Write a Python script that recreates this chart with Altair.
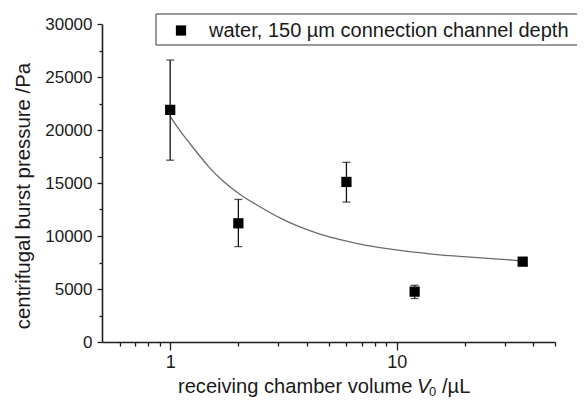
import altair as alt
import pandas as pd

# measured data (volume in µL, burst pressure in Pa)
volume = [1, 2, 6, 12, 36]
pressure = [21900, 11200, 15100, 4750, 7580]
err_low = [17150, 9000, 13200, 4100, 7300]
err_high = [26600, 13450, 16950, 5350, 7850]

# fitted curve
fit_volume = [1.0, 1.12, 1.29, 1.47, 1.68, 2.03, 2.49, 3.05, 3.74, 4.58, 5.61, 7.1, 9.97, 13.98, 19.6, 27.5, 36]
fit_pressure = [21300, 19690, 18110, 16540, 15300, 13870, 12760, 11670, 10820, 10160, 9650, 9130, 8680, 8300, 8050, 7850, 7650]

x_major = [1, 10]
x_minor = [0.6, 0.7, 0.8, 0.9, 2, 3, 4, 5, 6, 7, 8, 9, 20, 30, 40, 50]
y_major = [0, 5000, 10000, 15000, 20000, 25000, 30000]
y_minor = [2500, 7500, 12500, 17500, 22500, 27500]

legend_label = "water, 150 µm connection channel depth"
y_title = "centrifugal burst pressure /Pa"
x_title_parts = ["receiving chamber volume", "V", "0", "/µL"]

FONT = "Liberation Sans"
AX = "#1e1e1e"
TXT = "#1a1a1a"

pts = pd.DataFrame({"v": volume, "p": pressure, "lo": err_low, "hi": err_high})
fit = pd.DataFrame({"v": fit_volume, "p": fit_pressure})

xs = alt.Scale(type="log", domain=[0.5, 50], nice=False)
ys = alt.Scale(domain=[0, 30000], nice=False, zero=False)

major_x_axis = alt.Axis(values=x_major, orient="bottom", title=None, tickSize=8,
                        labelPadding=3, labelFontSize=18, format="d", grid=False)
minor_x_axis = alt.Axis(values=x_minor, orient="bottom", title=None, tickSize=4,
                        labels=False, grid=False, domain=False)
major_y_axis = alt.Axis(values=y_major, orient="left", title=None, tickSize=5,
                        labelPadding=5, labelFontSize=17, format="d", grid=False)
minor_y_axis = alt.Axis(values=y_minor, orient="left", title=None, tickSize=3,
                        labels=False, grid=False, domain=False)

curve = alt.Chart(fit).mark_line(color="#6a6a6a", strokeWidth=1.3, interpolate="basis").encode(
    x=alt.X("v:Q", scale=xs, axis=minor_x_axis),
    y=alt.Y("p:Q", scale=ys, axis=minor_y_axis),
)

bars = alt.Chart(pts).mark_rule(color="#111", strokeWidth=1.3).encode(
    x=alt.X("v:Q", scale=xs, axis=None),
    y=alt.Y("lo:Q", scale=ys, axis=None),
    y2="hi:Q",
)
cap_lo = alt.Chart(pts).mark_tick(color="#111", orient="horizontal", size=8, thickness=1.3).encode(
    x=alt.X("v:Q", scale=xs, axis=None),
    y=alt.Y("lo:Q", scale=ys, axis=None),
)
cap_hi = alt.Chart(pts).mark_tick(color="#111", orient="horizontal", size=8, thickness=1.3).encode(
    x=alt.X("v:Q", scale=xs, axis=None),
    y=alt.Y("hi:Q", scale=ys, axis=None),
)
points = alt.Chart(pts).mark_square(size=105, color="#000", opacity=1).encode(
    x=alt.X("v:Q", scale=xs, axis=major_x_axis),
    y=alt.Y("p:Q", scale=ys, axis=major_y_axis),
)

one = pd.DataFrame({"a": [0]})
leg_fill = alt.Chart(one).mark_rect(fill="white").encode(
    x=alt.value(54), x2=alt.value(520), y=alt.value(-10), y2=alt.value(21)
)
leg_top = alt.Chart(one).mark_rule(color="#777", strokeWidth=1.5).encode(
    x=alt.value(54), x2=alt.value(520), y=alt.value(-10)
)
leg_bot = alt.Chart(one).mark_rule(color="#777", strokeWidth=1.5).encode(
    x=alt.value(54), x2=alt.value(520), y=alt.value(21)
)
leg_left = alt.Chart(one).mark_rule(color="#777", strokeWidth=1.5).encode(
    x=alt.value(54), y=alt.value(-10), y2=alt.value(21)
)
leg_sym = alt.Chart(one).mark_square(size=105, color="#000", opacity=1).encode(
    x=alt.value(79), y=alt.value(6.5)
)
leg_txt = alt.Chart(one).mark_text(text=legend_label, font=FONT, fontSize=20, align="left",
                                   baseline="middle", color=TXT).encode(
    x=alt.value(107), y=alt.value(6.5)
)

ytitle = alt.Chart(one).mark_text(text=y_title, font=FONT, fontSize=20.4, angle=270,
                                  align="center", baseline="middle", color=TXT).encode(
    x=alt.value(-78), y=alt.value(172)
)
xt0 = alt.Chart(one).mark_text(text=x_title_parts[0], font=FONT, fontSize=20.1, align="left",
                               baseline="alphabetic", color=TXT).encode(
    x=alt.value(76), y=alt.value(369))
xt1 = alt.Chart(one).mark_text(text=x_title_parts[1], font=FONT, fontSize=20.1, fontStyle="italic",
                               align="left", baseline="alphabetic", color=TXT).encode(
    x=alt.value(315), y=alt.value(369))
xt2 = alt.Chart(one).mark_text(text=x_title_parts[2], font=FONT, fontSize=13, align="left",
                               baseline="alphabetic", color=TXT).encode(
    x=alt.value(327), y=alt.value(372))
xt3 = alt.Chart(one).mark_text(text=x_title_parts[3], font=FONT, fontSize=20.1, align="left",
                               baseline="alphabetic", color=TXT).encode(
    x=alt.value(340), y=alt.value(369))

chart = alt.layer(
    curve, bars, cap_lo, cap_hi, points, leg_fill, leg_top, leg_bot, leg_left, leg_sym, leg_txt,
    ytitle, xt0, xt1, xt2, xt3
).resolve_axis(
    x="independent", y="independent"
).properties(
    width=453, height=318,
    padding={"left": 94, "top": 16, "right": 22, "bottom": 56},
    autosize=alt.AutoSizeParams(type="none"),
    background="white",
).configure_view(
    stroke=None
).configure_axis(
    labelFont=FONT, labelColor=TXT, domainColor=AX, tickColor=AX,
    domainWidth=1.6, tickWidth=1.3,
)

chart.save("out.html", embed_options={"renderer": "svg", "actions": False})
